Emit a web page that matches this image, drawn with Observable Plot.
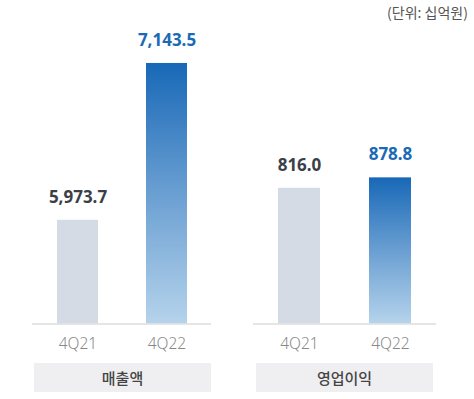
<!DOCTYPE html>
<html>
<head>
<meta charset="utf-8">
<script src="https://cdn.jsdelivr.net/npm/d3@7"></script>
<script src="https://cdn.jsdelivr.net/npm/@observablehq/plot@0.6"></script>
<style>
  html, body { margin: 0; padding: 0; background: #fff; }
  #wrap { position: relative; width: 474px; height: 399px; overflow: hidden; font-family: "Noto Sans CJK KR", "Noto Sans", sans-serif; }
  #unit { position: absolute; right: 6px; top: 2px; font-size: 14px; color: #555; }
  .panel { position: absolute; top: 0; }
</style>
</head>
<body>
<div id="wrap">
  <div id="unit">(단위: 십억원)</div>
</div>
<script>
const quarters = ["4Q21", "4Q22"];
const panelTitles = ["매출액", "영업이익"];
const revenue = [5973.7, 7143.5];
const operatingProfit = [816.0, 878.8];

const FONT = '"Noto Sans", "Noto Sans CJK KR", sans-serif';

function gradientDefs(id) {
  return () => {
    const ns = "http://www.w3.org/2000/svg";
    const defs = document.createElementNS(ns, "defs");
    const g = document.createElementNS(ns, "linearGradient");
    g.setAttribute("id", id);
    g.setAttribute("x1", "0"); g.setAttribute("y1", "0");
    g.setAttribute("x2", "0"); g.setAttribute("y2", "1");
    [["0%", "#1868b7"], ["50%", "#6a9fd2"], ["100%", "#b5d3eb"]].forEach(([o, c]) => {
      const s = document.createElementNS(ns, "stop");
      s.setAttribute("offset", o); s.setAttribute("stop-color", c);
      g.appendChild(s);
    });
    defs.appendChild(g);
    return defs;
  };
}

function panel({values, yDomain, marginLeft, marginRight, gradId}) {
  const data = quarters.map((q, i) => ({q, v: values[i], i}));
  const W = 237, H = 399, base = 323.5;
  return Plot.plot({
    width: W,
    height: H,
    marginTop: 20,
    marginBottom: H - base,
    marginLeft,
    marginRight,
    style: {fontFamily: FONT, background: "transparent", overflow: "visible"},
    x: {domain: quarters, paddingInner: 0.54, paddingOuter: 0.27, axis: null},
    y: {domain: yDomain, clamp: true, axis: null},
    marks: [
      gradientDefs(gradId),
      Plot.barY(data, {
        x: "q", y: "v",
        fill: d => d.i === 0 ? "#d5dbe4" : `url(#${gradId})`
      }),
      Plot.ruleY([yDomain[0]], {stroke: "#dcdcdc", strokeWidth: 1.5}),
      Plot.text(data, {
        x: "q", y: "v",
        text: d => d3.format(",.1f")(d.v),
        dy: -23,
        fontSize: 17,
        fontWeight: "bold",
        fill: d => d.i === 0 ? "#3b3f47" : "#1a6ab5"
      }),
      Plot.text(data, {
        x: "q", y: yDomain[0],
        text: "q",
        dy: 20,
        fontSize: 15.5,
        fontWeight: 300,
        fill: "#888888"
      })
    ]
  });
}

const wrap = document.getElementById("wrap");

const left = panel({values: revenue, yDomain: [5200, 7464], marginLeft: 32, marginRight: 26, gradId: "gradL"});
left.classList.add("panel");
left.style.left = "0px";
wrap.appendChild(left);

const right = panel({values: operatingProfit, yDomain: [0, 1825], marginLeft: 16, marginRight: 38, gradId: "gradR"});
right.classList.add("panel");
right.style.left = "237px";
wrap.appendChild(right);

// category boxes below each panel
const boxes = [
  {x: 34, w: 177, t: panelTitles[0]},
  {x: 256, w: 177, t: panelTitles[1]}
];
boxes.forEach(b => {
  const d = document.createElement("div");
  d.style.cssText = `position:absolute;left:${b.x}px;top:363px;width:${b.w}px;height:29px;background:#efeff1;color:#444;font-size:15px;line-height:29px;text-align:center;font-weight:500;`;
  d.textContent = b.t;
  wrap.appendChild(d);
});
</script>
</body>
</html>
